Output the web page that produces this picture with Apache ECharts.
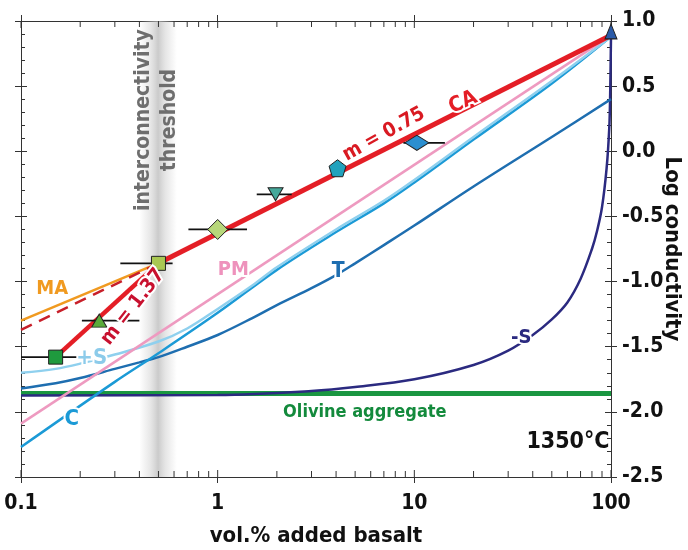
<!DOCTYPE html>
<html><head><meta charset="utf-8">
<script src="https://cdn.jsdelivr.net/npm/echarts@6/dist/echarts.min.js"></script>
<style>html,body{margin:0;padding:0;background:#fff}#c{width:688px;height:550px}</style>
</head><body><div id="c"></div>
<script>
// ---------- data ----------
const xTickLabels = [0.1, 1, 10, 100];
const yTickMin = -2.5, yTickMax = 1.0, yTickStep = 0.5;
const logMinorTicks = [0.2,0.3,0.4,0.5,0.6,0.7,0.8,0.9,2,3,4,5,6,7,8,9,20,30,40,50,60,70,80,90];

const caX = [0.5, 100],            caY = [-0.86, 0.89];
const steepX = [0.15, 0.5],        steepY = [-1.58, -0.86];
const dashX = [0.1, 0.5],          dashY = [-1.37, -0.86];
const maX = [0.1, 0.48],           maY = [-1.30, -0.87];
const pmX = [0.1, 100],            pmY = [-2.09, 0.89];
const cX = [0.1, 0.3, 0.5, 1, 2, 4, 7, 10, 20, 50, 100];
const cY = [-2.27, -1.77, -1.55, -1.24, -0.91, -0.62, -0.40, -0.24, 0.09, 0.52, 0.88];
const psX = [0.1, 0.15, 0.2, 0.3, 0.5, 0.7, 1, 1.5, 2, 4, 7, 10, 20, 50, 100];
const psY = [-1.70, -1.67, -1.63, -1.56, -1.46, -1.36, -1.21, -1.03, -0.89, -0.60, -0.38, -0.22, 0.11, 0.54, 0.88];
const tX = [0.1, 0.15, 0.2, 0.3, 0.4, 0.5, 0.7, 1, 1.5, 2, 3, 4, 5, 7, 10, 20, 50, 100];
const tY = [-1.82, -1.78, -1.74, -1.67, -1.62, -1.58, -1.50, -1.41, -1.28, -1.18, -1.05, -0.95, -0.86, -0.72, -0.57, -0.27, 0.11, 0.40];
const msX = [0.1, 1, 3, 5, 10, 20, 30, 40, 50, 60, 70, 80, 85, 90, 95, 98, 99, 100];
const msY = [-1.875, -1.87, -1.84, -1.81, -1.75, -1.64, -1.53, -1.41, -1.29, -1.16, -0.98, -0.75, -0.61, -0.43, -0.13, 0.18, 0.43, 0.88];
const olX = [0.1, 100],            olY = [-1.86, -1.86];

const mkX   = [0.15, 0.25, 0.5, 1.0, 1.97, 4.07, 10.3, 100];
const mkY   = [-1.58, -1.30, -0.86, -0.60, -0.33, -0.13, 0.065, 0.92];
const mkLo  = [0.1, 0.204, 0.32, 0.71, 1.58, null, 8.8, null];
const mkHi  = [0.2, 0.40, 0.59, 1.41, 2.38, null, 14.3, null];

const bandX = [0.40, 0.62];

const lblText = ['CA', 'm = 0.75', 'm = 1.37', 'MA', 'PM', 'T', '+S', 'C', '-S', 'Olivine aggregate', '1350°C'];
const lblX    = [17.7, 7.0, 0.371, 0.144, 1.2, 4.1, 0.229, 0.181, 35, 5.6, 60.4];
const lblY    = [0.375, 0.13, -1.195, -1.056, -0.91, -0.92, -1.59, -2.06, -1.435, -2.0, -2.23];
const threshText = 'interconnectivity\nthreshold';
const threshX = 0.49, threshY = 0.24;

// ---------- styles ----------
const FF = "'Liberation Sans Narrow','DejaVu Sans Condensed','Roboto Condensed','Open Sans',sans-serif";
const AX = '#333';
const zip = (xs, ys) => xs.map((x, i) => [x, ys[i]]);

const mkSymbols = ['rect','triangle','rect','diamond','triangle','path://M0,-1L0.951,-0.309L0.588,0.809L-0.588,0.809L-0.951,-0.309Z','diamond','triangle'];
const mkRot     = [0,0,0,0,180,0,0,0];
const mkSize    = [[14,14],[15,13],[14,14],[20,20],[15,13],[17,17],[24,15],[12,15]];
const mkColor   = ['#1f9a3e','#5aab3a','#a9c853','#b7d77a','#46a99b','#22a2bd','#2b8fd0','#2a5aa8'];

const lblColor  = ['#e41e26','#d91a22','#c8102e','#f09a20','#ee92bc','#1e6eb0','#8ccbea','#1b9ad6','#2b2a80','#138a3c','#111'];
const lblRot    = [24, 29, 52, 0, 0, 0, 0, 0, 0, 0, 0];
const lblSize   = [21, 20, 20, 20, 20, 21, 22, 22, 20, 18, 23];

function lineSeries(name, xs, ys, color, width, extra) {
  return Object.assign({
    name, type: 'line', data: zip(xs, ys), showSymbol: false, symbol: 'none',
    smooth: false, silent: true, animation: false,
    lineStyle: { color, width }
  }, extra || {});
}

const series = [];
// gray threshold band (under everything)
series.push({
  type: 'line', data: [], silent: true, animation: false,
  markArea: {
    silent: true,
    itemStyle: { opacity: 1, color: { type: 'linear', x: 0, y: 0, x2: 1, y2: 0, colorStops: [
      { offset: 0, color: 'rgba(200,200,200,0)' },
      { offset: 0.3, color: 'rgba(200,200,200,0.45)' },
      { offset: 0.5, color: 'rgba(185,185,185,0.75)' },
      { offset: 0.7, color: 'rgba(200,200,200,0.45)' },
      { offset: 1, color: 'rgba(200,200,200,0)' } ] } },
    data: [[{ xAxis: bandX[0] }, { xAxis: bandX[1] }]]
  }
});
const smoothOpt = { smooth: 0.35 };
series.push(lineSeries('Olivine', olX, olY, '#1a9641', 5));
series.push(lineSeries('-S', msX, msY, '#2b2a80', 2.5, smoothOpt));
series.push(lineSeries('T', tX, tY, '#1e6eb0', 2.5, smoothOpt));
series.push(lineSeries('C', cX, cY, '#1b9ad6', 2.5, smoothOpt));
series.push(lineSeries('+S', psX, psY, '#8fd0ee', 2.5, smoothOpt));
series.push(lineSeries('PM', pmX, pmY, '#ee9ac0', 2.5));
series.push(lineSeries('MA', maX, maY, '#f09a20', 2.5));
series.push(lineSeries('dash', dashX, dashY, '#c8202a', 2.5, { lineStyle: { color: '#c8202a', width: 2.5, type: [12, 8] } }));
series.push(lineSeries('steep', steepX, steepY, '#e41e26', 4.5));
series.push(lineSeries('CA', caX, caY, '#e41e26', 5));
// error bars
mkX.forEach((x, i) => {
  if (mkLo[i] == null) return;
  series.push(lineSeries('err' + i, [mkLo[i], mkHi[i]], [mkY[i], mkY[i]], '#111', 1.8));
});
// markers
series.push({
  type: 'scatter', silent: true, animation: false, z: 5,
  data: mkX.map((x, i) => ({
    value: [x, mkY[i]], symbol: mkSymbols[i], symbolSize: mkSize[i], symbolRotate: mkRot[i],
    itemStyle: { color: mkColor[i], borderColor: '#222', borderWidth: 1, opacity: 1 }
  }))
});
// minor log ticks on x (bottom / top, inward)
series.push({
  type: 'scatter', silent: true, animation: false, clip: false, z: 1,
  data: logMinorTicks.map(x => ({ value: [x, yTickMin], symbol: 'rect', symbolSize: [1, 6], symbolOffset: [0, -3] }))
    .concat(logMinorTicks.map(x => ({ value: [x, yTickMax], symbol: 'rect', symbolSize: [1, 6], symbolOffset: [0, 3] })))
    .concat(xTickLabels.map(x => ({ value: [x, yTickMin], symbol: 'rect', symbolSize: [1, 7], symbolOffset: [0, -3.5] })))
    .concat(xTickLabels.map(x => ({ value: [x, yTickMax], symbol: 'rect', symbolSize: [1, 7], symbolOffset: [0, 3.5] }))),
  itemStyle: { color: AX, opacity: 1 }
});
// text labels
series.push({
  type: 'scatter', silent: true, animation: false, z: 10, symbolSize: 0,
  itemStyle: { opacity: 1 },
  data: lblText.map((t, i) => ({
    value: [lblX[i], lblY[i]],
    label: {
      show: true, position: 'inside', formatter: t, rotate: lblRot[i],
      color: lblColor[i], fontSize: lblSize[i], fontWeight: 'bold', fontFamily: FF,
      textBorderColor: i >= 9 ? 'transparent' : '#fff', textBorderWidth: i >= 9 ? 0 : 4
    }
  })).concat([{
    value: [threshX, threshY],
    label: { show: true, position: 'inside', formatter: threshText, rotate: 90, color: '#6e6e6e',
      fontSize: 21, fontWeight: 'bold', fontFamily: FF, lineHeight: 26, align: 'center', verticalAlign: 'middle' }
  }])
});

const yBase = {
  type: 'value', min: yTickMin, max: yTickMax, interval: yTickStep,
  splitLine: { show: false }, axisLine: { show: true, lineStyle: { color: AX, width: 1 } }
};
const xBase = {
  type: 'log', logBase: 10, min: 0.1, max: 100,
  splitLine: { show: false }, axisLine: { show: true, onZero: false, lineStyle: { color: AX, width: 1 } }
};

const option = {
  animation: false,
  backgroundColor: '#fff',
  grid: { left: 21, right: 77, top: 21, bottom: 73, containLabel: false, outerBoundsMode: 'none' },
  xAxis: [
    Object.assign({}, xBase, {
      position: 'bottom',
      axisTick: { show: true, inside: false, length: 6, lineStyle: { color: AX } },
      axisLabel: { show: true, margin: 16, color: '#111', fontSize: 21, fontWeight: 'bold', fontFamily: FF,
        formatter: v => (v < 1 ? v.toFixed(1) : String(Math.round(v))) },
      name: 'vol.% added basalt', nameLocation: 'middle', nameGap: 48, nameMoveOverlap: false,
      nameTextStyle: { color: '#111', fontSize: 22, fontWeight: 'bold', fontFamily: FF }
    }),
    Object.assign({}, xBase, {
      position: 'top',
      axisTick: { show: true, inside: false, length: 6, lineStyle: { color: AX } },
      axisLabel: { show: false }
    })
  ],
  yAxis: [
    Object.assign({}, yBase, {
      position: 'right',
      axisTick: { show: true, inside: false, length: 6, lineStyle: { color: AX } },
      axisLabel: { show: true, margin: 11, color: '#111', fontSize: 21, fontWeight: 'bold', fontFamily: FF,
        formatter: v => v.toFixed(1) },
      name: 'Log conductivity', nameLocation: 'middle', nameGap: 50, nameRotate: -90, nameMoveOverlap: false,
      nameTextStyle: { color: '#111', fontSize: 22, fontWeight: 'bold', fontFamily: FF }
    }),
    Object.assign({}, yBase, {
      position: 'right',
      axisLine: { show: false },
      axisTick: { show: true, inside: true, length: 6, lineStyle: { color: AX } },
      minorTick: { show: true, splitNumber: 5, length: 4, lineStyle: { color: AX } },
      axisLabel: { show: false }
    }),
    Object.assign({}, yBase, {
      position: 'left',
      axisTick: { show: true, inside: false, length: 6, lineStyle: { color: AX } },
      axisLabel: { show: false }
    }),
    Object.assign({}, yBase, {
      position: 'left',
      axisLine: { show: false },
      axisTick: { show: true, inside: true, length: 6, lineStyle: { color: AX } },
      minorTick: { show: true, splitNumber: 5, length: 4, lineStyle: { color: AX } },
      axisLabel: { show: false }
    })
  ],
  series: series
};

const chart = echarts.init(document.getElementById('c'), null, { renderer: 'canvas' });
chart.setOption(option);
</script>
</body></html>
